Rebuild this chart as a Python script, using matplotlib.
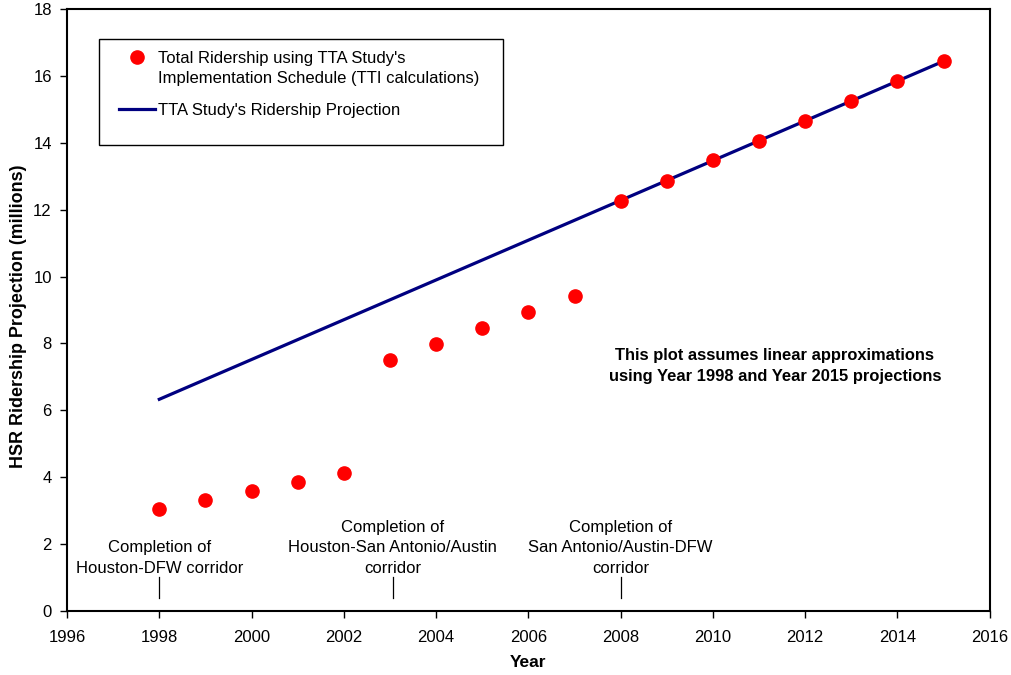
import matplotlib.pyplot as plt
from matplotlib.patches import Rectangle

plt.rcParams['font.family'] = ['Liberation Sans', 'DejaVu Sans']

# TTI ridership points (millions)
years = [1998, 1999, 2000, 2001, 2002, 2003, 2004, 2005, 2006, 2007,
         2008, 2009, 2010, 2011, 2012, 2013, 2014, 2015]
ridership = [3.06, 3.33, 3.60, 3.86, 4.12, 7.50, 7.98, 8.46, 8.95, 9.43,
             12.27, 12.87, 13.47, 14.05, 14.65, 15.24, 15.85, 16.44]

# TTA linear projection, 1998 and 2015 end points
proj_years = [1998, 2015]
proj_values = [6.33, 16.44]

# corridor completions
event_years = [1998, 2003.06, 2008]
event_labels = ["Completion of\nHouston-DFW corridor",
                "Completion of\nHouston-San Antonio/Austin\ncorridor",
                "Completion of\nSan Antonio/Austin-DFW\ncorridor"]

fig = plt.figure(figsize=(10.11, 6.75), dpi=100)
ax = fig.add_axes([0.0663, 0.0948, 0.9127, 0.8919])

ax.plot(years, ridership, 'o', color='#ff0000', markersize=9.5, zorder=3,
        label="Total Ridership using TTA Study's\nImplementation Schedule (TTI calculations)")
ax.plot(proj_years, proj_values, color='#000080', linewidth=2.3, zorder=2,
        label="TTA Study's Ridership Projection")

for yr, lab in zip(event_years, event_labels):
    ax.plot([yr, yr], [0.39, 1.02], color='black', linewidth=0.9)
    ax.text(yr, 1.05, lab, ha='center', va='bottom', fontsize=12, linespacing=1.45)

ax.text(2011.34, 7.32, "This plot assumes linear approximations\nusing Year 1998 and Year 2015 projections",
        ha='center', va='center', fontsize=11.9, fontweight='bold', linespacing=1.45)

ax.set_xlim(1996, 2016)
ax.set_ylim(0, 18)
ax.set_xticks(range(1996, 2017, 2))
ax.set_yticks(range(0, 19, 2))
ax.tick_params(direction='out', length=5, width=1, labelsize=12, color='black')
ax.tick_params(axis='x', pad=9)
ax.tick_params(axis='y', pad=6)
for s in ax.spines.values():
    s.set_linewidth(1.5)
ax.set_xlabel("Year", fontsize=12.5, fontweight='bold', labelpad=7)
ax.set_ylabel("HSR Ridership Projection (millions)", fontsize=12.9, fontweight='bold')
ax.yaxis.set_label_coords(-0.0433, 0.49)

# legend without its own frame; box drawn separately (Excel-style padding)
leg = ax.legend(loc='upper left', bbox_to_anchor=(119 / 1011, 1 - 51 / 675),
                bbox_transform=fig.transFigure, frameon=False,
                fontsize=12, handlelength=2.16, borderpad=0,
                labelspacing=1.0, handletextpad=0.18, borderaxespad=0)
leg.get_texts()[0].set_linespacing(1.45)
h0 = leg.legend_handles[0]
h0.set_ydata([y + 8.6 for y in h0.get_ydata()])
fig.add_artist(Rectangle((99 / 1011, 1 - 145 / 675), 404 / 1011, 106 / 675,
                         transform=fig.transFigure, fill=False,
                         edgecolor='black', linewidth=1.0))

fig.savefig('out.png', dpi=100)
